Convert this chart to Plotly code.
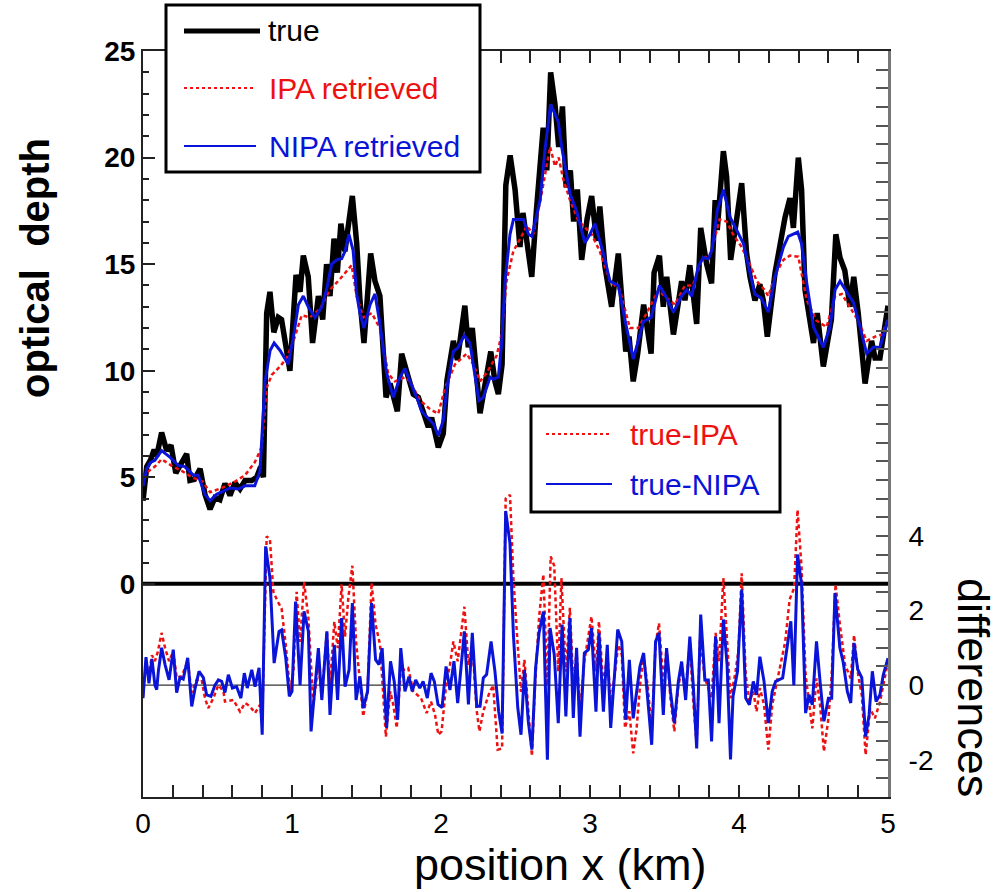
import plotly.graph_objects as go

# ---- optical depth along the transect (left axis) ----
true_x = [0.0, 0.025, 0.05, 0.075, 0.092, 0.125, 0.159, 0.188, 0.22, 0.26, 0.293, 0.315, 0.345, 0.383,
          0.416, 0.45, 0.483, 0.516, 0.55, 0.584, 0.617, 0.651, 0.685, 0.73, 0.763, 0.79, 0.808, 0.83,
          0.852, 0.878, 0.908, 0.93, 0.953, 0.986, 1.027, 1.054, 1.076, 1.109, 1.138, 1.177, 1.206,
          1.232, 1.255, 1.282, 1.304, 1.328, 1.355, 1.405, 1.434, 1.456, 1.483, 1.528, 1.557, 1.59,
          1.631, 1.658, 1.707, 1.736, 1.78, 1.814, 1.848, 1.881, 1.915, 1.937, 1.982, 2.015, 2.04,
          2.083, 2.11, 2.16, 2.183, 2.21, 2.262, 2.334, 2.362, 2.385, 2.41, 2.435, 2.464, 2.497, 2.53,
          2.55, 2.609, 2.64, 2.686, 2.71, 2.736, 2.765, 2.79, 2.815, 2.84, 2.868, 2.89, 2.915, 2.944,
          2.98, 3.011, 3.044, 3.066, 3.1, 3.145, 3.19, 3.24, 3.262, 3.29, 3.32, 3.36, 3.41, 3.43,
          3.466, 3.492, 3.515, 3.56, 3.615, 3.637, 3.67, 3.716, 3.743, 3.783, 3.816, 3.84, 3.854,
          3.895, 3.917, 3.944, 3.984, 4.018, 4.051, 4.074, 4.107, 4.14, 4.163, 4.19, 4.242, 4.309,
          4.342, 4.365, 4.398, 4.42, 4.443, 4.5, 4.525, 4.566, 4.62, 4.65, 4.678, 4.71, 4.745, 4.77,
          4.8, 4.846, 4.89, 4.913, 4.946, 5.0]
true_y = [3.9, 5.5, 5.8, 6.3, 6.0, 7.1, 6.25, 6.5, 5.2, 5.7, 6.1, 4.85, 4.9, 5.4,
          4.2, 3.5, 4.05, 3.95, 4.7, 4.15, 4.75, 4.45, 4.85, 4.85, 5.0, 5.5, 5.0, 12.7,
          13.7, 11.8, 12.5, 12.4, 11.4, 10.0, 14.5, 13.7, 15.4, 14.4, 11.3, 13.5, 12.4,
          15.0, 13.5, 16.2, 14.6, 16.9, 15.6, 18.2, 16.0, 13.3, 11.3, 15.5, 14.2, 13.5,
          8.75, 9.4, 8.1, 10.8, 9.7, 8.9, 8.75, 8.0, 7.35, 7.8, 6.4, 7.05, 9.55,
          11.4, 10.5, 13.05, 11.1, 12.0, 8.0, 10.9, 9.5, 8.9, 10.3, 18.7, 20.1, 18.5, 15.8,
          17.4, 14.4, 17.5, 21.4, 19.4, 24.0, 22.5, 20.5, 22.4, 18.6, 19.4, 17.0, 18.5, 15.2,
          17.1, 18.2, 16.1, 17.7, 14.9, 13.0, 15.5, 10.9, 11.6, 9.5, 10.8, 13.1, 10.8, 14.6,
          15.4, 13.0, 14.4, 11.7, 14.2, 13.3, 14.95, 12.2, 16.7, 15.0, 14.1, 18.0, 16.6,
          20.3, 19.1, 15.2, 17.1, 18.8, 15.5, 14.4, 13.3, 14.05, 13.3, 11.6, 14.6, 17.2,
          18.1, 16.7, 20.0, 18.5, 13.8, 11.3, 12.7, 10.2, 12.4, 16.4, 15.3, 14.7, 13.0, 14.4,
          12.7, 9.4, 11.4, 10.6, 10.6, 13.05]

ipa_x = [0.0, 0.04, 0.08, 0.125, 0.19, 0.26, 0.33, 0.4, 0.45, 0.53, 0.617, 0.685, 0.75, 0.796,
         0.83, 0.864, 0.92, 0.964, 1.01, 1.065, 1.12, 1.188, 1.255, 1.322, 1.4, 1.434, 1.479,
         1.535, 1.59, 1.646, 1.69, 1.758, 1.792, 1.86, 1.926, 1.982, 2.027, 2.094, 2.172, 2.217,
         2.262, 2.306, 2.373, 2.407, 2.44, 2.485, 2.54, 2.575, 2.62, 2.675, 2.732, 2.765, 2.79,
         2.82, 2.866, 2.92, 3.011, 3.066, 3.134, 3.2, 3.268, 3.323, 3.38, 3.46, 3.5, 3.57,
         3.637, 3.69, 3.75, 3.81, 3.87, 3.917, 3.96, 4.018, 4.06, 4.12, 4.17, 4.197, 4.25,
         4.298, 4.342, 4.398, 4.455, 4.52, 4.588, 4.645, 4.69, 4.745, 4.8, 4.857, 4.913, 4.96,
         5.0]
ipa_y = [5.0, 5.3, 5.5, 5.85, 5.55, 5.3, 5.0, 4.8, 4.3, 4.5, 4.8, 5.1, 5.7, 6.4,
         9.2, 9.8, 10.2, 10.6, 11.4, 12.6, 12.5, 12.9, 13.8, 14.3, 14.95, 13.5, 12.5,
         12.7, 12.0, 9.85, 9.5, 9.7, 9.5, 8.6, 8.2, 7.98, 9.2, 10.3, 10.8, 10.3,
         9.5, 9.9, 10.7, 11.7, 14.2, 15.6, 16.3, 16.8, 16.4, 18.3, 20.5, 19.6, 20.0,
         19.0, 18.0, 17.05, 16.4, 15.6, 14.2, 13.8, 12.0, 12.0, 12.7, 13.8, 13.5, 13.1,
         14.0, 14.0, 15.2, 15.5, 17.1, 17.0, 16.4, 15.8, 15.2, 14.2, 13.8, 13.5, 14.6,
         15.2, 15.4, 15.35, 13.3, 12.35, 12.05, 13.5, 13.6, 12.97, 12.35, 11.4, 11.6, 11.7,
         12.4]

nipa_x = [0.0, 0.025, 0.05, 0.08, 0.125, 0.18, 0.237, 0.28, 0.338, 0.37, 0.416, 0.45, 0.494,
          0.55, 0.584, 0.64, 0.685, 0.75, 0.785, 0.819, 0.853, 0.88, 0.92, 0.975, 1.01, 1.043,
          1.076, 1.109, 1.154, 1.2, 1.232, 1.266, 1.3, 1.333, 1.356, 1.382, 1.41, 1.434, 1.456,
          1.483, 1.524, 1.557, 1.59, 1.635, 1.68, 1.725, 1.758, 1.792, 1.837, 1.87, 1.915, 1.95,
          1.982, 2.015, 2.04, 2.083, 2.116, 2.156, 2.194, 2.254, 2.284, 2.33, 2.35, 2.385, 2.407,
          2.43, 2.463, 2.486, 2.553, 2.587, 2.61, 2.665, 2.7, 2.736, 2.787, 2.81, 2.866, 2.91,
          2.966, 3.0, 3.033, 3.09, 3.134, 3.19, 3.234, 3.29, 3.324, 3.358, 3.41, 3.466, 3.5,
          3.56, 3.615, 3.65, 3.683, 3.727, 3.76, 3.795, 3.82, 3.854, 3.895, 3.94, 3.984, 4.03,
          4.06, 4.107, 4.15, 4.197, 4.242, 4.298, 4.331, 4.394, 4.42, 4.455, 4.5, 4.566, 4.611,
          4.645, 4.678, 4.723, 4.768, 4.813, 4.857, 4.902, 4.946, 5.0]
nipa_y = [4.6, 5.4, 5.7, 5.8, 6.25, 5.95, 5.55, 5.5, 5.1, 5.1, 4.2, 3.9, 4.2,
          4.4, 4.5, 4.45, 4.6, 4.6, 5.3, 9.5, 10.95, 11.3, 10.95, 10.3, 11.6, 13.1,
          13.5, 13.0, 12.5, 13.0, 13.8, 15.0, 15.2, 15.25, 15.6, 16.4, 15.65, 13.6, 12.7,
          12.0, 13.1, 13.6, 12.2, 9.9, 8.75, 9.7, 10.1, 9.5, 8.75, 8.1, 7.74, 7.5,
          6.96, 7.66, 9.2, 10.9, 11.1, 11.65, 11.3, 8.6, 8.75, 9.7, 9.6, 9.7, 11.3,
          14.2, 16.4, 17.1, 17.1, 16.4, 16.3, 18.0, 20.5, 22.5, 21.7, 20.5, 18.3, 17.5,
          16.0, 16.4, 16.9, 15.5, 14.2, 14.0, 12.4, 10.55, 11.4, 12.3, 12.5, 14.0, 13.6,
          12.75, 13.5, 13.8, 13.5, 14.9, 15.3, 15.25, 15.7, 17.5, 18.5, 17.2, 16.6, 15.96,
          15.0, 13.6, 13.4, 12.75, 14.4, 15.8, 16.3, 16.5, 15.96, 14.1, 12.05, 11.1, 12.05,
          13.8, 14.2, 13.7, 13.2, 12.05, 10.8, 11.1, 11.1, 12.4]

# ---- differences (right axis) ----
d_ipa_x = [0.0, 0.02, 0.04, 0.06, 0.08, 0.1, 0.125, 0.148, 0.175, 0.203, 0.226, 0.26, 0.3, 0.327,
           0.36, 0.394, 0.416, 0.438, 0.472, 0.506, 0.54, 0.55, 0.607, 0.651, 0.685, 0.718, 0.752,
           0.785, 0.8, 0.83, 0.852, 0.875, 0.904, 0.93, 0.958, 0.987, 1.01, 1.031, 1.054, 1.081,
           1.11, 1.143, 1.177, 1.2, 1.234, 1.255, 1.284, 1.307, 1.333, 1.356, 1.378, 1.405, 1.43,
           1.456, 1.478, 1.507, 1.534, 1.561, 1.591, 1.63, 1.66, 1.68, 1.703, 1.73, 1.78, 1.814,
           1.866, 1.904, 1.933, 1.96, 1.982, 2.004, 2.034, 2.06, 2.083, 2.112, 2.157, 2.184, 2.21,
           2.24, 2.258, 2.284, 2.32, 2.35, 2.38, 2.41, 2.434, 2.463, 2.486, 2.51, 2.537, 2.56,
           2.586, 2.61, 2.631, 2.658, 2.687, 2.714, 2.736, 2.76, 2.787, 2.808, 2.838, 2.865, 2.888,
           2.91, 2.933, 2.962, 3.01, 3.04, 3.06, 3.09, 3.116, 3.139, 3.163, 3.19, 3.213, 3.235,
           3.264, 3.29, 3.313, 3.34, 3.36, 3.387, 3.414, 3.44, 3.463, 3.492, 3.514, 3.54, 3.566,
           3.593, 3.615, 3.642, 3.67, 3.693, 3.716, 3.738, 3.771, 3.816, 3.843, 3.866, 3.895, 3.92,
           3.943, 3.973, 3.996, 4.018, 4.045, 4.07, 4.096, 4.118, 4.14, 4.168, 4.197, 4.223, 4.264,
           4.31, 4.34, 4.37, 4.393, 4.42, 4.447, 4.492, 4.52, 4.544, 4.57, 4.6, 4.622, 4.648,
           4.677, 4.712, 4.75, 4.772, 4.8, 4.824, 4.85, 4.88, 4.912, 4.946, 5.0]
d_ipa_y = [-0.3, 0.6, 0.3, 0.8, 0.64, 0.9, 1.4, 1.0, 0.64, 0.9, 0.2, 0.24, 0.64, -0.2,
           0.14, 0.14, -0.35, -0.62, -0.35, 0.0, -0.17, -0.44, -0.4, -0.71, -0.48, -0.57, -0.75,
           -0.53, -0.98, 3.99, 3.9, 2.5, 2.24, 2.06, 1.08, -0.17, 0.37, 2.5, 1.16, 2.77,
           1.8, -0.53, 0.55, -0.35, 1.44, 0.0, 1.7, 0.99, 2.7, 1.3, 2.34, 3.2, 1.16,
           0.0, -0.84, -0.17, 2.74, 1.62, 1.08, -1.38, -0.17, -0.53, -1.15, 0.37, 0.46, -0.17,
           -0.35, -0.75, -0.44, -0.8, -1.33, -1.24, 0.0, 0.54, 1.17, 0.64, 2.1, 0.54, 1.08,
           -0.7, -1.24, -0.7, -0.26, 0.0, -1.73, -1.7, 5.0, 5.1, 2.87, 1.35, -0.18, 0.68,
           -0.7, -1.9, 0.0, 1.8, 2.97, 0.0, 3.45, 3.2, 0.36, 2.87, 0.36, 2.07, 0.0,
           0.9, -0.71, 0.64, 1.84, 0.37, 1.71, -0.08, 0.9, -0.53, 0.19, 1.08, 0.82, -1.15,
           -0.7, -1.83, -1.15, 0.19, 0.72, 0.0, -1.24, 1.08, 1.66, 0.1, 0.99, -0.35, -1.24,
           0.0, 0.37, -0.08, 1.08, -0.44, -1.6, 1.26, 0.19, -0.35, 1.4, 0.64, 2.87, 1.35,
           -0.35, 0.27, 0.9, 3.0, 0.27, -0.44, -0.17, -0.71, -0.08, -0.53, -1.73, -0.53, 0.27,
           1.16, 2.3, 2.6, 4.7, 3.14, 0.27, -1.16, 0.18, -0.53, -1.78, -0.9, 0.27, 2.7,
           1.63, 0.54, 0.18, 1.34, 0.27, -0.27, -1.87, -0.63, -0.89, -0.45, 0.63]

d_nipa_x = [0.0, 0.02, 0.04, 0.06, 0.08, 0.092, 0.103, 0.125, 0.148, 0.175, 0.203, 0.226, 0.248,
            0.27, 0.3, 0.327, 0.35, 0.376, 0.405, 0.427, 0.456, 0.483, 0.506, 0.528, 0.55, 0.573,
            0.6, 0.628, 0.657, 0.68, 0.7, 0.73, 0.752, 0.779, 0.8, 0.823, 0.852, 0.88, 0.913, 0.93,
            0.958, 0.982, 1.0, 1.024, 1.054, 1.081, 1.11, 1.128, 1.177, 1.2, 1.234, 1.255, 1.284,
            1.306, 1.333, 1.356, 1.383, 1.405, 1.43, 1.456, 1.478, 1.507, 1.534, 1.561, 1.584,
            1.605, 1.635, 1.661, 1.686, 1.709, 1.73, 1.758, 1.785, 1.807, 1.83, 1.858, 1.88, 1.908,
            1.933, 1.955, 1.98, 2.007, 2.034, 2.06, 2.087, 2.112, 2.157, 2.184, 2.21, 2.24, 2.262,
            2.284, 2.306, 2.336, 2.362, 2.387, 2.41, 2.434, 2.463, 2.486, 2.515, 2.537, 2.56, 2.586,
            2.61, 2.635, 2.658, 2.687, 2.714, 2.732, 2.76, 2.787, 2.813, 2.838, 2.865, 2.888, 2.91,
            2.933, 2.962, 2.989, 3.01, 3.04, 3.06, 3.09, 3.116, 3.139, 3.163, 3.186, 3.213, 3.24,
            3.264, 3.29, 3.335, 3.36, 3.387, 3.414, 3.44, 3.463, 3.492, 3.514, 3.54, 3.566, 3.593,
            3.615, 3.642, 3.67, 3.693, 3.716, 3.743, 3.771, 3.794, 3.816, 3.843, 3.866, 3.895, 3.92,
            3.943, 3.96, 3.99, 4.018, 4.045, 4.07, 4.096, 4.118, 4.14, 4.168, 4.197, 4.223, 4.246,
            4.293, 4.348, 4.368, 4.393, 4.42, 4.447, 4.47, 4.492, 4.52, 4.544, 4.57, 4.6, 4.622,
            4.644, 4.677, 4.7, 4.727, 4.75, 4.772, 4.797, 4.824, 4.85, 4.873, 4.895, 4.92, 4.946,
            4.968, 5.0]
d_nipa_y = [-0.35, 0.75, 0.05, 0.7, 0.0, -0.12, 0.37, 1.0, 0.55, 0.14, 0.95, -0.2, 0.2,
            0.16, 0.73, -0.57, -0.08, 0.37, 0.2, -0.26, -0.3, 0.0, 0.14, 0.1, -0.2, 0.28,
            -0.08, -0.04, -0.35, 0.32, -0.08, 0.41, -0.04, 0.46, -1.33, 3.72, 2.87, 0.59, 1.44, 1.48,
            0.73, -0.3, -0.17, 2.24, 0.0, 1.98, 1.44, -1.24, 0.99, -0.4, 1.44, -0.8, 1.08,
            -0.4, 1.8, -0.04, 0.41, 2.2, -0.4, 0.23, -0.62, -0.17, 2.2, 0.68, 0.55,
            0.99, -1.15, 0.64, 0.1, -0.93, 0.99, -0.17, 0.23, -0.17, 0.14, -0.08, 0.1, -0.35,
            0.32, 0.1, -0.52, -0.6, 0.5, -0.13, 0.64, -0.48, 1.44, -0.52, 1.4, -0.57, -0.57,
            0.19, 0.28, 1.17, 0.37, -0.7, -1.3, 4.67, 3.8, 1.35, -0.6, -1.33, 0.41, -0.98,
            -1.73, 0.46, 1.4, 1.97, -2.0, 1.53, 0.82, -1.02, 1.62, -0.84, 1.8, -0.88, 1.0,
            -1.38, 0.86, 0.95, 1.53, -0.71, 1.4, -0.71, 1.08, -1.15, 0.19, 1.49, 1.17, -0.93,
            0.68, -0.89, 0.5, 0.86, -0.35, -1.6, 1.17, 1.4, -0.8, 0.99, -0.17, -1.02, 0.1,
            0.63, -0.4, 1.3, 0.0, -1.7, 1.89, 0.14, 0.14, -1.51, 1.3, -1.02, 1.76, 0.55,
            -1.99, -0.3, 0.37, 2.56, -0.35, -0.53, 0.1, -0.26, 0.76, 0.1, -1.02, -0.17, 0.1,
            0.19, 1.71, 0.0, 3.5, 2.7, -0.75, -0.26, -0.53, 1.17, 0.1, -0.97, -0.35, -0.35,
            2.47, 1.0, 0.6, -0.17, -0.48, 1.13, 0.42, 0.2, -1.38, -0.8, 0.37, -0.44, -0.26,
            0.27, 0.72]

# ---- axis ticks ----
x_major = [0, 1, 2, 3, 4, 5]
x_minor = [0.2, 0.4, 0.6, 0.8, 1.2, 1.4, 1.6, 1.8, 2.2, 2.4, 2.6, 2.8, 3.2, 3.4, 3.6, 3.8,
           4.2, 4.4, 4.6, 4.8]
tau_major = [0, 5, 10, 15, 20, 25]
tau_minor = [v for v in range(1, 25) if v % 5]
diff_major = [-2, 0, 2, 4]
diff_major_text = ["-2", "0", "2", "4"]
diff_minor = [v / 2 for v in range(-6, 35)]

FONT = "Liberation Sans, Arial, sans-serif"
RED = "#ee1111"
BLUE = "#0a14d8"
DOTS = "4px,3px"

W, H = 1003, 892
L, R, T, B = 143, 115, 51, 95
PW, PH = W - L - R, H - T - B


def px(x):
    return (x - L) / PW


def py(y):
    return (H - B - y) / PH


fig = go.Figure()
fig.add_trace(go.Scatter(x=true_x, y=true_y, mode="lines", line=dict(color="black", width=5.5),
                         name="true", yaxis="y"))
fig.add_trace(go.Scatter(x=ipa_x, y=ipa_y, mode="lines", line=dict(color=RED, width=2.5, dash=DOTS),
                         name="IPA retrieved", yaxis="y"))
fig.add_trace(go.Scatter(x=nipa_x, y=nipa_y, mode="lines", line=dict(color=BLUE, width=3),
                         name="NIPA retrieved", yaxis="y"))
fig.add_trace(go.Scatter(x=d_ipa_x, y=d_ipa_y, mode="lines", line=dict(color=RED, width=2.5, dash=DOTS),
                         name="true-IPA", yaxis="y2"))
fig.add_trace(go.Scatter(x=d_nipa_x, y=d_nipa_y, mode="lines", line=dict(color=BLUE, width=3),
                         name="true-NIPA", yaxis="y2"))

shapes = [
    # zero reference lines
    dict(type="line", xref="paper", yref="y", x0=0, x1=1, y0=0, y1=0,
         line=dict(color="black", width=4), layer="below"),
    dict(type="line", xref="paper", yref="y2", x0=0, x1=1, y0=0, y1=0,
         line=dict(color="black", width=1), layer="below"),
    # legend boxes
    dict(type="rect", xref="paper", yref="paper", x0=px(166), x1=px(480), y0=py(172), y1=py(5),
         line=dict(color="black", width=3), fillcolor="white", layer="above"),
    dict(type="rect", xref="paper", yref="paper", x0=px(531), x1=px(780), y0=py(512), y1=py(406),
         line=dict(color="black", width=3), fillcolor="white", layer="above"),
    # legend samples
    dict(type="line", xref="paper", yref="paper", x0=px(184), x1=px(260), y0=py(31), y1=py(31),
         line=dict(color="black", width=5), layer="above"),
    dict(type="line", xref="paper", yref="paper", x0=px(184), x1=px(256), y0=py(88), y1=py(88),
         line=dict(color=RED, width=2, dash="dot"), layer="above"),
    dict(type="line", xref="paper", yref="paper", x0=px(184), x1=px(256), y0=py(146), y1=py(146),
         line=dict(color=BLUE, width=2), layer="above"),
    dict(type="line", xref="paper", yref="paper", x0=px(546), x1=px(612), y0=py(434), y1=py(434),
         line=dict(color=RED, width=2, dash="dot"), layer="above"),
    dict(type="line", xref="paper", yref="paper", x0=px(546), x1=px(612), y0=py(484), y1=py(484),
         line=dict(color=BLUE, width=2), layer="above"),
]

annotations = []
for label, color, x, y in [("true", "black", 266, 31), ("IPA retrieved", RED, 267, 88),
                           ("NIPA retrieved", BLUE, 267, 146), ("true-IPA", RED, 628, 434),
                           ("true-NIPA", BLUE, 628, 484)]:
    annotations.append(dict(text=label, x=px(x), y=py(y), xref="paper", yref="paper",
                            xanchor="left", yanchor="middle", showarrow=False,
                            font=dict(family=FONT, size=30, color=color)))

annotations += [
    dict(text="<b>optical  depth</b>", x=px(35), y=py(268), xref="paper", yref="paper",
         xanchor="center", yanchor="middle", textangle=-90, showarrow=False,
         font=dict(family=FONT, size=40, color="black")),
    dict(text="differences", x=px(974), y=py(688), xref="paper", yref="paper",
         xanchor="center", yanchor="middle", textangle=90, showarrow=False,
         font=dict(family=FONT, size=45, color="black")),
    dict(text="position x (km)", x=px(560), y=py(864), xref="paper", yref="paper",
         xanchor="center", yanchor="middle", showarrow=False,
         font=dict(family=FONT, size=45, color="black")),
]

axis_line = dict(showline=True, linecolor="#222", linewidth=2, showgrid=False, zeroline=False)

fig.update_layout(
    width=W, height=H,
    margin=dict(l=L, r=R, t=T, b=B),
    paper_bgcolor="white", plot_bgcolor="white",
    showlegend=False,
    shapes=shapes,
    annotations=annotations,
    xaxis=dict(range=[0, 5], tickvals=x_major, ticks="inside", ticklen=12, tickwidth=1.5,
               tickcolor="#222", mirror="allticks",
               minor=dict(tickvals=x_minor, ticks="inside", ticklen=6, tickcolor="#222"),
               tickfont=dict(family=FONT, size=28, color="black"), **axis_line),
    yaxis=dict(range=[-10, 25], tickvals=tau_major, ticks="inside", ticklen=12, tickwidth=1.5,
               tickcolor="#222", mirror=True,
               minor=dict(tickvals=tau_minor, ticks="inside", ticklen=6, tickcolor="#222"),
               tickfont=dict(family=FONT, size=28, color="black", weight="bold"), **axis_line),
    yaxis2=dict(range=[-3, 17], overlaying="y", side="right", anchor="x",
                tickvals=diff_major, ticktext=diff_major_text, ticks="inside", ticklen=12,
                tickcolor="#555", tickwidth=1.5, ticklabelstandoff=12,
                minor=dict(tickvals=diff_minor, ticks="inside", ticklen=12, tickcolor="#555"),
                tickfont=dict(family=FONT, size=28, color="black"),
                showline=True, linecolor="#777", linewidth=3, showgrid=False, zeroline=False),
)

fig.write_html("out.html")
